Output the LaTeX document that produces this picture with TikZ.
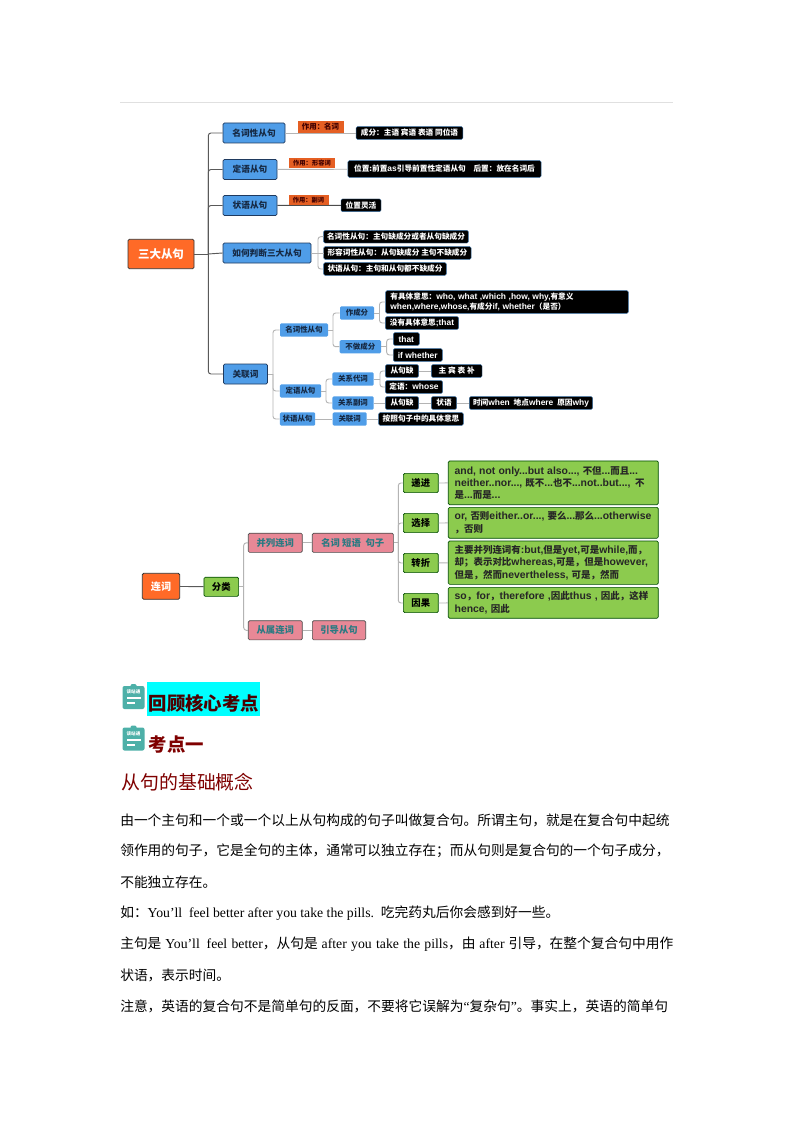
\documentclass[tikz,border=0pt]{standalone}
\usepackage{fontspec}
\usepackage{tikz}
\usetikzlibrary{positioning}
\setmainfont{Noto Sans CJK SC}
\newfontfamily\latinbold[Scale=1.1,BoldFont=Liberation Sans Bold]{Liberation Sans}
\newfontfamily\latinserif{Liberation Serif}
\newcommand{\en}[1]{{\latinbold\bfseries #1}}
\newcommand{\tm}[1]{{\latinserif #1}}
\XeTeXlinebreaklocale "zh"
\XeTeXlinebreakskip=0pt plus 1pt minus 0.6pt
\definecolor{rootorange}{HTML}{FF6A27}
\definecolor{mapblue}{HTML}{4F9DE8}
\definecolor{mapnavy}{HTML}{1F3A5F}
\definecolor{mapgreen}{HTML}{8CCB4E}
\definecolor{mappink}{HTML}{E88896}
\definecolor{mapteal}{HTML}{2A7A82}
\definecolor{linegrey}{HTML}{B4B4B4}
\definecolor{icongreen}{HTML}{4DB0A8}
\definecolor{headred}{HTML}{7F0000}
\definecolor{headcyan}{HTML}{00FFFF}

\begin{document}
\begin{tikzpicture}[
      x=0.75pt,y=-0.75pt,
      basebox/.style={
        rounded corners=1pt,
        align=center,
        inner sep=0pt,
        font=\bfseries
      },
      rootbox/.style={
        basebox,
        draw=black!80,
        fill=rootorange,
        text=white,
        line width=0.6pt
      },
      bluebox/.style={
        basebox,
        draw=mapnavy,
        fill=mapblue,
        text=mapnavy!70!black,
        minimum height=15pt,
        line width=0.6pt,
        font=\bfseries\fontsize{6.5}{8}\selectfont
      },
      subbox/.style={
        basebox,
        fill=mapblue,
        text=mapnavy!70!black,
        minimum height=10pt,
        font=\bfseries\fontsize{5.6}{7}\selectfont
      },
      tagbox/.style={
        basebox,
        rounded corners=0pt,
        fill=rootorange!90!black,
        text=black!75!red,
        font=\bfseries\fontsize{5.6}{7}\selectfont
      },
      darkbox/.style={
        basebox,
        draw=mapblue!70!black,
        fill=black,
        text=white,
        line width=0.3pt,
        minimum height=9.5pt,
        font=\bfseries\fontsize{5.75}{7.2}\selectfont
      },
      greenbox/.style={
        basebox,
        draw=green!30!black,
        fill=mapgreen,
        text=black,
        minimum height=14.4pt,
        line width=0.5pt,
        font=\bfseries\fontsize{7}{9}\selectfont
      },
      notebox/.style={
        greenbox,
        align=left,
        text=black!85,
        minimum width=157.5pt,
        text width=148pt,
        font=\bfseries\fontsize{7.1}{9.2}\selectfont
      },
      pinkbox/.style={
        basebox,
        draw=black!70,
        fill=mappink,
        text=mapteal,
        minimum height=14.4pt,
        line width=0.5pt,
        font=\bfseries\fontsize{7}{9}\selectfont
      },
      conn/.style={
        linegrey,
        line width=0.7pt,
        rounded corners=2pt
      },
      trunk/.style={
        conn,
        black!65
      },
      bodyline/.style={
        anchor=west,
        inner sep=0pt,
        font=\fontsize{10.3}{12}\selectfont
      },
      headline/.style={
        anchor=west,
        inner sep=0pt,
        font=\bfseries\fontsize{13.8}{16}\selectfont
      },
      pics/noteicon/.style={
        code={
          \fill[icongreen,rounded corners=1.5pt] (-11,-11) rectangle (11,12);
          \fill[icongreen,rounded corners=1pt] (-3,-13) rectangle (3,-9);
          \node[text=white,font=\bfseries\fontsize{3.4}{4}\selectfont,inner sep=0pt] at (0,-5) {该站通};
          \fill[white] (-7,0) rectangle (7,2);
          \fill[white] (-7,5) rectangle (1,7);
        }
      }
    ]
    \useasboundingbox (0,0) rectangle (794,1123);
    \fill[white] (0,0) rectangle (794,1123);

    \coordinate (ruleleft) at (120,102.5);
    \coordinate (ruleright) at (673,102.5);
    \draw[black!12,line width=0.8pt] (ruleleft) -- (ruleright);

    % first map
    \node[rootbox,minimum width=49.5pt,minimum height=22pt,font=\bfseries\fontsize{8.6}{10}\selectfont] (sanda) at (161,254) {三大从句};

    \node[bluebox,minimum width=46.5pt] (mingci) at (254,133) {名词性从句};
    \node[bluebox,minimum width=40.5pt] (dingyu) at (250,169.5) {定语从句};
    \node[bluebox,minimum width=40.5pt] (zhuangyu) at (250,205.5) {状语从句};
    \node[bluebox,minimum width=66pt] (panduan) at (267,253) {如何判断三大从句};
    \node[bluebox,minimum width=33pt] (guanlian) at (245.5,374) {关联词};

    \node[darkbox,minimum width=80pt] (chengfen) at (409.5,133) {成分：主语 宾语 表语 同位语};
    \node[darkbox,minimum width=145pt,minimum height=12.5pt] (weizhi) at (444.5,169) {位置:前置\en{as}引导前置性定语从句\quad 后置：放在名词后};
    \node[darkbox,minimum width=30pt] (linghuo) at (361,205.3) {位置灵活};
    \node[darkbox,minimum width=108.5pt] (pan1) at (396,236.7) {名词性从句：主句缺成分或者从句缺成分};
    \node[darkbox,minimum width=110.5pt] (pan2) at (397.4,253) {形容词性从句：从句缺成分 主句不缺成分};
    \node[darkbox,minimum width=92pt] (pan3) at (385,269) {状语从句：主句和从句都不缺成分};

    \coordinate (t1) at (208.3,254);
    \coordinate (t2) at (318,253);
    \draw[trunk] (sanda.east) -- (t1);
    \draw[trunk] (t1) |- (mingci.west);
    \draw[trunk] (t1) |- (dingyu.west);
    \draw[trunk] (t1) |- (zhuangyu.west);
    \draw[trunk] (t1) -- (panduan.west);
    \draw[trunk] (t1) |- (guanlian.west);
    \draw[conn] (mingci) -- (chengfen);
    \draw[conn] (dingyu) -- (weizhi);
    \draw[conn,black!70] (zhuangyu) -- (linghuo);
    \draw[conn] (panduan.east) -- (t2);
    \draw[conn] (t2) |- (pan1.west);
    \draw[conn] (t2) -- (pan2.west);
    \draw[conn] (t2) |- (pan3.west);

    \node[tagbox,minimum width=34.5pt,minimum height=9pt] (tag1) at (320.5,127) {作用：名词};
    \node[tagbox,minimum width=34.5pt,minimum height=7.5pt,font=\bfseries\fontsize{4.7}{6}\selectfont] (tag2) at (312,163.3) {作用：形容词};
    \node[tagbox,minimum width=30pt,minimum height=7.5pt,font=\bfseries\fontsize{4.7}{6}\selectfont] (tag3) at (308.5,200) {作用：副词};

    % relation words
    \node[subbox,minimum width=36pt] (smingci) at (304,330) {名词性从句};
    \node[subbox,minimum width=31pt] (sdingyu) at (300.5,391) {定语从句};
    \node[subbox,minimum width=26.5pt] (szhuang) at (297.5,419) {状语从句};
    \node[subbox,minimum width=25.5pt] (zuo) at (357,313) {作成分};
    \node[subbox,minimum width=31pt] (buzuo) at (360.4,346.7) {不做成分};
    \node[subbox,minimum width=31pt] (daici) at (353,379) {关系代词};
    \node[subbox,minimum width=31pt] (fuci) at (353,403) {关系副词};
    \node[subbox,minimum width=25.5pt] (sguan) at (349.7,419) {关联词};

    \node[darkbox,minimum width=182pt,minimum height=17pt,align=left,text width=175pt] (youju) at (507,302) {有具体意思：\en{who, what ,which ,how, why,}有意义\\\en{when,where,whose,}有成分\en{if, whether}（是否）};
    \node[darkbox,minimum width=55pt] (meiyou) at (422,323) {没有具体意思\en{;that}};
    \node[darkbox,minimum width=19.5pt] (that) at (406.3,339) {\en{that}};
    \node[darkbox,minimum width=36.8pt] (ifwh) at (417.8,355) {\en{if whether}};
    \node[darkbox,minimum width=25pt] (que1) at (402,371) {从句缺};
    \node[darkbox,minimum width=38pt] (zhubin) at (456.7,371) {主 宾 表 补};
    \node[darkbox,minimum width=43pt] (whose) at (414,387) {定语：\en{whose}};
    \node[darkbox,minimum width=25pt] (que2) at (402,403) {从句缺};
    \node[darkbox,minimum width=19pt] (zhuang2) at (444,403) {状语};
    \node[darkbox,minimum width=92.5pt] (shijian) at (531,403) {时间\en{when}\enspace 地点\en{where}\enspace 原因\en{why}};
    \node[darkbox,minimum width=63.5pt] (anzhao) at (421,419) {按照句子中的具体意思};

    \coordinate (t3) at (273,374);
    \coordinate (t4) at (333,330);
    \coordinate (t5) at (379.5,313);
    \coordinate (t6) at (386.7,346.7);
    \coordinate (t7) at (326,391);
    \coordinate (t8) at (380,379);
    \draw[conn] (guanlian.east) -- (t3);
    \draw[conn] (t3) |- (smingci.west);
    \draw[conn] (t3) |- (sdingyu.west);
    \draw[conn] (t3) |- (szhuang.west);
    \draw[conn] (smingci.east) -- (t4);
    \draw[conn] (t4) |- (zuo.west);
    \draw[conn] (t4) |- (buzuo.west);
    \draw[conn] (zuo.east) -- (t5);
    \draw[conn] (t5) |- (youju.west);
    \draw[conn] (t5) |- (meiyou.west);
    \draw[conn] (buzuo.east) -- (t6);
    \draw[conn] (t6) |- (that.west);
    \draw[conn] (t6) |- (ifwh.west);
    \draw[conn] (sdingyu.east) -- (t7);
    \draw[conn] (t7) |- (daici.west);
    \draw[conn] (t7) |- (fuci.west);
    \draw[conn] (daici.east) -- (t8);
    \draw[conn] (t8) |- (que1.west);
    \draw[conn] (t8) |- (whose.west);
    \draw[conn] (que1) -- (zhubin);
    \draw[conn] (fuci) -- (que2);
    \draw[conn] (que2) -- (zhuang2);
    \draw[conn] (zhuang2) -- (shijian);
    \draw[conn] (szhuang) -- (sguan);
    \draw[conn] (sguan) -- (anzhao);

    % second map
    \node[rootbox,minimum width=28pt,minimum height=19.5pt,font=\bfseries\fontsize{7.6}{9}\selectfont] (lianci) at (161,586.3) {连词};
    \node[greenbox,minimum width=26pt] (fenlei) at (221.3,586.8) {分类};
    \node[pinkbox,minimum width=40.5pt] (binglie) at (275.3,542.8) {并列连词};
    \node[pinkbox,minimum width=40.5pt] (congshu) at (275.3,630.3) {从属连词};
    \node[pinkbox,minimum width=60.8pt] (duanyu) at (352.8,542.8) {名词 短语\enspace 句子};
    \node[pinkbox,minimum width=40pt] (yindao) at (339,630.3) {引导从句};

    \node[greenbox,minimum width=26.2pt] (dijin) at (420.8,483) {递进};
    \node[greenbox,minimum width=26.2pt] (xuanze) at (420.8,523) {选择};
    \node[greenbox,minimum width=26.2pt] (zhuanzhe) at (420.8,563) {转折};
    \node[greenbox,minimum width=26.2pt] (yinguo) at (420.8,603) {因果};

    \node[notebox,minimum height=32.8pt] (note1) at (553.3,482.8) {\en{and, not only...but also...,} 不但\en{...}而且\en{...}\\\en{neither..nor...,} 既不\en{...}也不\en{...not..but...,}\enspace 不\\是\en{...}而是\en{...}};
    \node[notebox,minimum height=23.2pt] (note2) at (553.3,522.8) {\en{or,} 否则\en{either..or...,} 要么\en{...}那么\en{...otherwise}\\，否则};
    \node[notebox,minimum height=32.5pt] (note3) at (553.3,562.7) {主要并列连词有\en{:but,}但是\en{yet,}可是\en{while,}而，\\却；表示对比\en{whereas,}可是，但是\en{however,}\\但是，然而\en{nevertheless,} 可是，然而};
    \node[notebox,minimum height=23.2pt] (note4) at (553.3,602.8) {\en{so}，\en{for}，\en{therefore ,}因此\en{thus ,} 因此，这样\\\en{hence,} 因此};

    \coordinate (t9) at (243.7,586.8);
    \coordinate (t10) at (398.3,542.8);
    \draw[trunk] (lianci) -- (fenlei);
    \draw[conn] (fenlei.east) -- (t9);
    \draw[conn] (t9) |- (binglie.west);
    \draw[conn] (t9) |- (congshu.west);
    \draw[conn] (binglie) -- (duanyu);
    \draw[conn] (congshu) -- (yindao);
    \draw[conn] (duanyu.east) -- (t10);
    \draw[conn] (t10) |- (dijin.west);
    \draw[conn] (t10) |- (xuanze.west);
    \draw[conn] (t10) |- (zhuanzhe.west);
    \draw[conn] (t10) |- (yinguo.west);
    \draw[conn] (dijin) -- (note1);
    \draw[conn] (xuanze) -- (note2);
    \draw[conn] (zhuanzhe) -- (note3);
    \draw[conn] (yinguo) -- (note4);

    % headings
    \pic at (133.5,697) {noteicon};
    \pic at (133.5,738.5) {noteicon};
    \fill[headcyan] (147.3,682.3) rectangle (260,715.7);
    \node[headline,text=red!30!black] (huigu) at (148.5,703) {回顾核心考点};
    \node[headline,text=headred] (kaodian) at (148.5,745) {考点一};
    \node[bodyline,text=headred,font=\fontsize{14.2}{17}\selectfont] (gainian) at (121,782) {从句的基础概念};

    % body
    \node[bodyline] (line1) at (120,820) {\makebox[414.8pt][s]{由一个主句和一个或一个以上从句构成的句子叫做复合句。所谓主句，就是在复合句中起统}};
    \node[bodyline] (line2) at (120,851) {\makebox[414.8pt][s]{领作用的句子，它是全句的主体，通常可以独立存在；而从句则是复合句的一个句子成分，}};
    \node[bodyline] (line3) at (120,882) {不能独立存在。};
    \node[bodyline] (line4) at (120,913) {如：\tm{You’ll\enspace feel better after you take the pills.\enspace}吃完药丸后你会感到好一些。};
    \node[bodyline] (line5) at (120,944) {\makebox[414.8pt][s]{主句是 \tm{You’ll\enspace feel better}，从句是 \tm{after you take the pills}，由 \tm{after} 引导，在整个复合句中用作}};
    \node[bodyline] (line6) at (120,975) {状语，表示时间。};
    \node[bodyline] (line7) at (120,1006) {\makebox[414.8pt][s]{注意，英语的复合句不是简单句的反面，不要将它误解为\tm{“}复杂句\tm{”}。事实上，英语的简单句}};
\end{tikzpicture}
\end{document}
